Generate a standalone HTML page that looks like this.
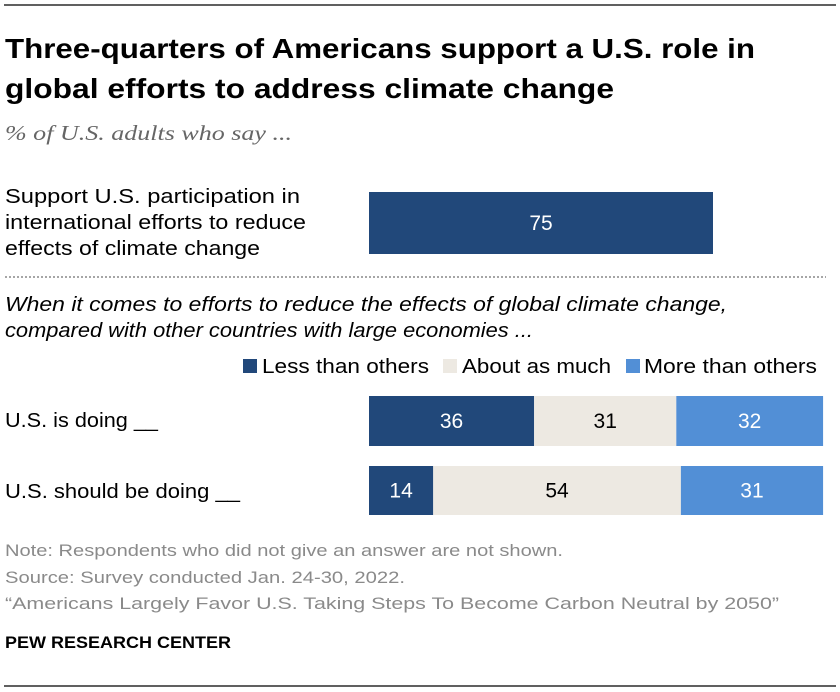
<!DOCTYPE html>
<html><head><meta charset="utf-8"><style>
body{margin:0;background:#fff}
svg{display:block;font-family:"Liberation Sans",sans-serif}
</style></head><body>
<svg id="chart" width="840" height="692" viewBox="0 0 840 692">
<line x1="4" y1="5" x2="836" y2="5" stroke="#000" stroke-width="1.2"/>
<text x="5" y="58" font-size="28" font-weight="bold" textLength="750" lengthAdjust="spacingAndGlyphs">Three-quarters of Americans support a U.S. role in</text>
<text x="5" y="98" font-size="28" font-weight="bold" textLength="609" lengthAdjust="spacingAndGlyphs">global efforts to address climate change</text>
<text x="5" y="140" font-size="21" font-style="italic" fill="#666" font-family="Liberation Serif,serif" textLength="287" lengthAdjust="spacingAndGlyphs">% of U.S. adults who say ...</text>
<g font-size="20" fill="#000">
<text x="5" y="203" textLength="295" lengthAdjust="spacingAndGlyphs">Support U.S. participation in</text>
<text x="5" y="229" textLength="301" lengthAdjust="spacingAndGlyphs">international efforts to reduce</text>
<text x="5" y="255" textLength="255" lengthAdjust="spacingAndGlyphs">effects of climate change</text>
</g>
<line x1="5" y1="277" x2="826" y2="277" stroke="#888" stroke-width="1.5" stroke-dasharray="2,2"/>
<g font-size="20" font-style="italic" fill="#000">
<text x="5" y="311" textLength="722" lengthAdjust="spacingAndGlyphs">When it comes to efforts to reduce the effects of global climate change,</text>
<text x="5" y="337" textLength="528" lengthAdjust="spacingAndGlyphs">compared with other countries with large economies ...</text>
</g>
<g font-size="20">
<rect x="243" y="359" width="14" height="14" fill="#21487a"/>
<text x="262" y="373" textLength="167" lengthAdjust="spacingAndGlyphs">Less than others</text>
<rect x="443" y="359" width="14" height="14" fill="#ede9e2"/>
<text x="462" y="373" textLength="149" lengthAdjust="spacingAndGlyphs">About as much</text>
<rect x="626" y="359" width="14" height="14" fill="#528fd6"/>
<text x="644" y="373" textLength="173" lengthAdjust="spacingAndGlyphs">More than others</text>
</g>
<g font-size="20">
<text x="5" y="427" textLength="153" lengthAdjust="spacingAndGlyphs">U.S. is doing __</text>
<text x="5" y="498" textLength="235" lengthAdjust="spacingAndGlyphs">U.S. should be doing __</text>
</g>
<g id="bars"></g>
<g font-size="17" fill="#8a8a8a">
<text x="5" y="556" textLength="558" lengthAdjust="spacingAndGlyphs">Note: Respondents who did not give an answer are not shown.</text>
<text x="5" y="583" textLength="400" lengthAdjust="spacingAndGlyphs">Source: Survey conducted Jan. 24-30, 2022.</text>
<text x="5" y="609" textLength="774" lengthAdjust="spacingAndGlyphs">“Americans Largely Favor U.S. Taking Steps To Become Carbon Neutral by 2050”</text>
</g>
<text x="5" y="648" font-size="17" font-weight="bold" textLength="226" lengthAdjust="spacingAndGlyphs">PEW RESEARCH CENTER</text>
<line x1="4" y1="686" x2="836" y2="686" stroke="#000" stroke-width="1.2"/>
</svg>
<script>
const supportValues = [75];
const categories = ["U.S. is doing", "U.S. should be doing"];
const lessValues = [36, 14];
const aboutValues = [31, 54];
const moreValues = [32, 31];
const seriesNames = ["less", "about", "more"];

const x0 = 369, pxPer = 344 / 75;
const xs = v => v * pxPer;
const colors = ["#21487a", "#ede9e2", "#528fd6"];
const textColors = ["#fff", "#000", "#fff"];
const g = document.getElementById("bars");
const NS = "http://www.w3.org/2000/svg";
function seg(x, y, w, h, fill, tc, val, name) {
  const r = document.createElementNS(NS, "rect");
  r.setAttribute("x", x); r.setAttribute("y", y);
  r.setAttribute("width", w); r.setAttribute("height", h);
  r.setAttribute("fill", fill);
  
  
  g.appendChild(r);
  const t = document.createElementNS(NS, "text");
  t.setAttribute("x", x + w / 2); t.setAttribute("y", y + h / 2 + 7);
  t.setAttribute("text-anchor", "middle"); t.setAttribute("font-size", "21");
  t.setAttribute("fill", tc);
  t.textContent = val;
  
  
  g.appendChild(t);
}
seg(x0, 192, xs(supportValues[0]), 62, colors[0], "#fff", supportValues[0], "bar-support");
const rowY = [396, 466], rowH = [50, 49];
categories.forEach((c, i) => {
  const vals = [lessValues[i], aboutValues[i], moreValues[i]];
  let x = x0;
  vals.forEach((v, j) => {
    seg(x, rowY[i], xs(v), rowH[i], colors[j], textColors[j], v, "bar-" + (i === 0 ? "doing" : "should") + "-" + seriesNames[j]);
    x += xs(v);
  });
});
</script>
</body></html>
